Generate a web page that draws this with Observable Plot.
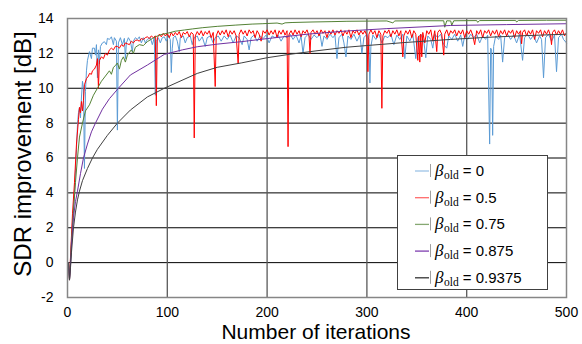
<!DOCTYPE html>
<html><head><meta charset="utf-8">
<script src="https://cdn.jsdelivr.net/npm/d3@7"></script>
<script src="https://cdn.jsdelivr.net/npm/@observablehq/plot@0.6"></script>
<style>
body{margin:0;background:#fff;}
#wrap{position:relative;width:582px;height:344px;}
</style></head><body><div id="wrap"></div>
<script>
// ---- data (iteration, SDR improvement in dB) ----
const xTicks = [0, 100, 200, 300, 400, 500];
const yTicks = [-2, 0, 2, 4, 6, 8, 10, 12, 14];
const xGrid = [100, 200, 300, 400];
const yGrid = [0, 2, 4, 6, 8, 10, 12];
const seriesLabels = ["0", "0.5", "0.75", "0.875", "0.9375"];

const beta0 = [[1,0],[2,-1.0],[3,0.2],[5,2.3],[7,4.0],[8,5.3],[9,6.5],[10,7.9],[11,8.6],[12,8.9],[13,8.3],[14,9.5],[15,10.4],[16,10.0],[17,5.4],[18,9.8],[19,11.0],[20,11.6],[22,12.1],[24,11.7],[25,12.3],[27,12.3],[28,11.9],[29,12.5],[30,10.6],[31,12.2],[32,11.4],[33,12.4],[35,12.6],[37,12.67],[39,12.5],[40,12.86],[42,12.8],[44,12.95],[46,12.5],[47,12.9],[49,12.7],[50,7.6],[51,12.6],[53,12.9],[55,12.5],[57,12.86],[58,11.7],[59,12.6],[61,12.9],[63,12.7],[65,12.1],[66,12.7],[68,12.9],[70,12.8],[72,12.95],[74,12.6],[76,12.9],[78,12.6],[80,12.8],[83,12.9],[85,12.5],[87,12.9],[88,9.6],[89,12.7],[91,12.9],[93,12.6],[95,12.9],[97,12.95],[99,12.7],[101,13.0],[103,12.8],[104,10.9],[105,12.3],[106,12.9],[108,13.0],[110,12.7],[112,12.1],[113,12.9],[116,13.0],[118,12.6],[120,12.9],[123,13.0],[125,12.5],[127,12.9],[130,13.0],[132,12.7],[135,12.95],[138,12.4],[140,12.9],[143,13.0],[146,12.6],[148,12.9],[151,13.0],[154,12.7],[157,13.0],[160,12.8],[163,13.05],[166,12.6],[169,13.0],[172,12.9],[175,12.5],[177,13.0],[180,12.8],[182,12.2],[184,12.9],[187,13.05],[190,12.7],[193,13.0],[196,12.85],[199,13.05],[202,12.6],[205,13.0],[208,12.9],[211,13.05],[214,12.7],[217,13.0],[220,12.9],[223,13.1],[226,12.8],[229,13.05],[232,12.6],[234,13.0],[236,12.0],[238,12.9],[241,13.1],[244,12.8],[247,13.05],[250,12.9],[253,13.1],[255,12.4],[257,13.0],[260,12.8],[263,13.1],[266,12.9],[268,13.05],[270,11.7],[272,12.9],[275,13.1],[277,12.6],[279,11.8],[281,13.0],[284,12.8],[287,13.1],[290,12.7],[293,13.05],[295,12.0],[297,12.9],[300,13.1],[302,12.8],[303,10.3],[304,12.4],[306,13.05],[309,12.8],[312,13.1],[315,12.6],[318,13.0],[321,12.9],[324,13.1],[327,12.5],[330,13.05],[333,12.8],[336,13.1],[338,11.7],[340,13.0],[343,12.7],[346,13.1],[349,11.7],[351,12.9],[354,13.1],[357,12.7],[359,11.75],[361,13.0],[364,12.8],[366,12.3],[368,13.1],[371,12.9],[374,13.1],[377,12.5],[380,12.3],[382,13.0],[385,12.8],[388,13.1],[391,12.7],[394,13.05],[396,12.4],[398,13.0],[401,12.8],[404,13.1],[407,12.9],[410,13.1],[413,12.6],[416,13.0],[419,12.8],[421,13.05],[423,6.8],[424,12.3],[425,12.2],[426,7.3],[427,12.4],[429,13.0],[432,12.8],[434,13.05],[436,11.5],[438,12.9],[441,13.1],[444,12.8],[447,13.05],[450,12.6],[453,13.1],[456,11.6],[458,12.9],[461,13.1],[464,12.8],[467,13.05],[470,12.6],[473,13.0],[475,12.8],[477,10.6],[479,12.9],[482,13.1],[485,12.7],[488,13.05],[490,10.95],[492,12.9],[495,13.1],[497,12.8],[500,12.6]];

const beta05 = [[1,0],[2,-1.0],[3,0.3],[5,2.8],[7,4.6],[9,6.8],[11,8.2],[12,8.9],[13,8.6],[14,9.24],[15,8.7],[16,9.3],[17,10.2],[19,10.55],[21,10.7],[22,10.85],[24,10.8],[25,11.0],[27,11.1],[29,11.33],[30,11.7],[31,10.0],[32,11.6],[34,11.8],[36,11.7],[38,12.0],[40,11.9],[42,12.2],[44,12.3],[46,12.2],[48,12.4],[50,12.4],[52,12.3],[54,12.5],[56,12.4],[58,12.6],[60,12.55],[62,12.5],[64,12.7],[66,12.6],[68,12.75],[70,12.76],[72,12.7],[74,12.85],[76,12.8],[78,12.9],[80,12.95],[82,12.85],[84,13.0],[86,12.9],[88,13.0],[89,9.0],[90,12.9],[92,13.1],[94,12.95],[96,13.15],[98,13.0],[100,13.15],[102,12.9],[104,13.2],[106,13.0],[108,13.2],[110,13.05],[112,13.25],[114,12.9],[116,13.2],[118,13.1],[120,13.25],[122,12.95],[124,13.2],[126,13.1],[127,7.15],[128,13.0],[130,13.25],[132,13.05],[134,13.3],[136,13.0],[138,13.25],[140,13.1],[142,13.3],[144,12.9],[146,13.2],[148,10.1],[149,13.0],[151,13.3],[153,13.05],[155,13.3],[157,13.1],[159,13.35],[161,12.95],[163,13.3],[165,13.1],[167,13.3],[169,13.0],[171,11.4],[172,13.1],[174,13.35],[176,13.1],[178,13.3],[180,13.0],[182,13.35],[184,13.15],[186,13.3],[188,12.9],[190,13.3],[192,13.1],[194,12.7],[196,13.3],[198,13.15],[200,13.35],[202,13.05],[204,13.3],[206,13.1],[208,13.35],[210,12.9],[212,13.3],[214,13.1],[216,13.35],[218,13.05],[220,13.3],[221,6.65],[222,13.1],[224,13.3],[226,13.05],[228,13.35],[230,13.1],[232,13.3],[234,12.95],[236,13.3],[238,13.15],[240,13.35],[242,13.0],[243,12.0],[244,13.2],[246,13.35],[248,13.1],[250,13.3],[252,13.0],[254,13.35],[256,13.15],[258,13.3],[260,12.9],[262,13.3],[264,13.1],[266,13.35],[268,13.05],[270,13.3],[272,13.15],[274,13.35],[276,13.0],[278,13.3],[280,13.1],[282,13.35],[284,12.9],[286,13.3],[288,13.15],[290,13.35],[292,13.05],[294,13.3],[296,13.1],[298,13.3],[300,13.0],[301,10.95],[302,13.1],[304,13.35],[306,13.1],[308,13.3],[310,12.9],[312,13.3],[314,13.1],[315,8.85],[316,13.0],[318,13.3],[320,13.15],[322,13.35],[324,12.95],[326,13.3],[328,13.1],[330,13.35],[332,13.0],[334,13.3],[336,11.8],[337,13.0],[339,13.3],[341,13.1],[343,13.35],[345,12.9],[347,13.3],[349,13.1],[351,11.6],[352,13.0],[353,11.5],[354,13.1],[355,11.8],[356,13.2],[358,12.6],[360,13.3],[362,13.1],[364,13.35],[366,12.7],[368,13.3],[370,12.1],[371,13.2],[373,13.35],[375,13.1],[377,11.9],[378,13.1],[380,13.35],[382,13.0],[384,13.3],[386,13.15],[388,13.35],[390,13.0],[392,13.3],[394,13.1],[396,13.35],[398,12.9],[400,13.3],[402,13.1],[404,13.35],[406,13.05],[408,12.5],[410,13.3],[412,13.1],[414,13.35],[416,12.9],[418,13.3],[420,13.15],[422,13.35],[424,13.0],[426,13.3],[428,13.1],[430,13.35],[432,12.95],[434,13.3],[436,13.1],[438,13.35],[440,13.0],[442,13.3],[444,13.15],[446,13.35],[448,12.9],[450,13.3],[452,13.1],[454,13.3],[455,12.55],[456,13.2],[458,13.35],[460,13.0],[462,13.3],[464,13.1],[466,13.35],[468,12.8],[470,13.3],[472,13.15],[474,13.35],[476,12.95],[478,13.3],[480,13.1],[482,13.35],[484,13.0],[485,12.5],[486,13.2],[488,13.35],[490,13.05],[492,13.3],[494,13.1],[496,13.35],[498,13.0],[500,13.2]];

const beta075 = [[1,0],[2,-1.0],[3,0.0],[4,1.2],[6,3.0],[8,4.6],[10,6.0],[12,7.2],[15,8.0],[18,8.7],[22,9.05],[26,9.6],[30,10.0],[34,10.4],[38,10.7],[42,11.0],[44,10.8],[46,11.2],[48,11.3],[50,11.45],[52,11.1],[54,11.6],[56,11.8],[58,11.5],[60,11.9],[64,12.2],[66,12.0],[68,12.35],[72,12.5],[76,12.45],[80,12.67],[85,12.85],[90,13.0],[95,13.1],[100,13.15],[108,13.27],[117,13.34],[125,13.4],[135,13.47],[150,13.55],[168,13.62],[185,13.68],[195,13.7],[210,13.74],[215,13.68],[218,13.75],[225,13.77],[245,13.8],[265,13.82],[280,13.84],[300,13.85],[320,13.86],[326,13.75],[328,13.86],[350,13.87],[377,13.87],[378,13.5],[380,13.87],[384,13.86],[385,13.6],[387,13.87],[410,13.88],[411,13.78],[413,13.88],[449,13.89],[450,13.8],[452,13.89],[480,13.9],[500,13.9]];

const beta0875 = [[1,0],[2,-1.0],[3,-0.2],[4,1.0],[6,2.6],[8,3.5],[10,4.1],[13,5.1],[16,6.0],[20,6.8],[24,7.5],[28,8.0],[35,8.8],[42,9.4],[51,10.0],[63,10.76],[80,11.33],[93,11.8],[97,11.94],[115,12.2],[130,12.38],[150,12.53],[174,12.67],[202,12.86],[240,13.1],[279,13.28],[320,13.42],[384,13.6],[440,13.65],[500,13.7]];

const beta09375 = [[1,0],[2,-1.0],[3,-0.3],[4,0.6],[6,2.0],[8,2.9],[10,3.6],[12,4.1],[15,4.7],[20,5.4],[25,6.0],[30,6.5],[40,7.3],[50,8.0],[63,8.75],[80,9.5],[97,10.0],[130,10.85],[150,11.2],[174,11.45],[200,11.75],[222,11.94],[250,12.15],[279,12.35],[300,12.45],[340,12.63],[384,12.8],[420,12.92],[460,13.02],[500,13.1]];

const seriesData = [beta0, beta05, beta075, beta0875, beta09375];
const lineColors = ["#5B9BD5", "#FF0000", "#548235", "#7030A0", "#404040"];
const legendColors = ["#9DC3E6", "#FF6B6B", "#86A872", "#7F3FB0", "#333333"];

const font = "'Liberation Sans', Arial, sans-serif";
const serif = "'Liberation Serif', 'DejaVu Serif', serif";

const lines = seriesData.map((d, i) =>
  Plot.line(d, {x: p => p[0], y: p => p[1], stroke: lineColors[i], strokeWidth: 1, curve: "linear"})
);

const chart = Plot.plot({
  width: 582, height: 344,
  marginLeft: 67, marginRight: 16, marginTop: 18, marginBottom: 47,
  style: {fontFamily: font, fontSize: "14px", color: "#000", background: "#fff", overflow: "visible"},
  x: {domain: [0, 500], ticks: xTicks, tickSize: 0, tickPadding: 10, tickFormat: d => String(d), label: null},
  y: {domain: [-2, 14], ticks: yTicks, tickSize: 0, tickPadding: 14, tickFormat: d => String(d), label: null},
  marks: [
    Plot.ruleY(yGrid, {stroke: "#000", strokeWidth: 1}),
    Plot.ruleX(xGrid, {stroke: "#595959", strokeWidth: 1.3}),
    ...lines,
    Plot.frame({stroke: "#868686", strokeWidth: 1.5})
  ]
});

document.getElementById("wrap").appendChild(chart);

const svg = d3.select(chart);
svg.selectAll("text").attr("fill", "#000");

// axis titles
svg.append("text")
  .attr("x", 316).attr("y", 339)
  .attr("text-anchor", "middle")
  .attr("font-family", font).attr("font-size", 21).attr("fill", "#000")
  .text("Number of iterations");
svg.append("text")
  .attr("transform", "translate(31,154) rotate(-90)")
  .attr("text-anchor", "middle")
  .attr("font-family", font).attr("font-size", 24).attr("fill", "#000")
  .text("SDR improvement [dB]");

// legend
const lg = svg.append("g").attr("text-anchor", "start");
lg.append("rect").attr("x", 397.5).attr("y", 155.5).attr("width", 150).attr("height", 134)
  .attr("fill", "#fff").attr("stroke", "#404040").attr("stroke-width", 1);
seriesLabels.forEach((lab, i) => {
  const cy = 171 + i * 26.7;
  lg.append("line").attr("x1", 415).attr("x2", 429).attr("y1", cy).attr("y2", cy)
    .attr("stroke", legendColors[i]).attr("stroke-width", 1.3);
  lg.append("line").attr("x1", 430.5).attr("x2", 430.5).attr("y1", cy - 7).attr("y2", cy + 6)
    .attr("stroke", "#888").attr("stroke-width", 0.8);
  const t = lg.append("text").attr("x", 435).attr("y", cy + 5)
    .attr("text-anchor", "start").attr("fill", "#000");
  t.append("tspan").attr("font-family", serif)
    .attr("font-style", "italic").attr("font-size", 17).text("β");
  t.append("tspan").attr("font-family", serif)
    .attr("font-size", 11.5).attr("dy", 3).attr("dx", 0.5).text("old");
  t.append("tspan").attr("font-family", font).attr("font-size", 15).attr("dy", -3)
    .text(" = " + lab);
});
</script></body></html>
